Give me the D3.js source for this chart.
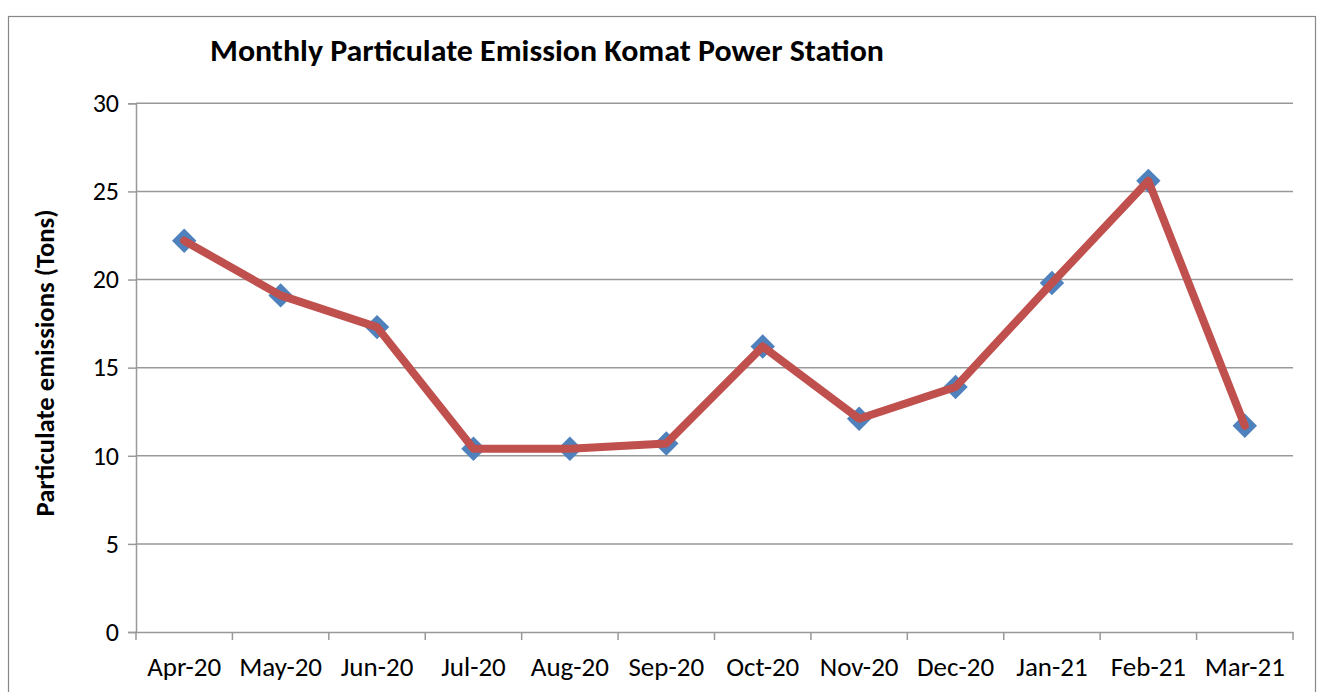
<!DOCTYPE html>
<html><head><meta charset="utf-8">
<script src="https://cdn.jsdelivr.net/npm/d3@7/dist/d3.min.js"></script>
<style>body{margin:0;background:#fff;}svg{display:block;}</style>
</head><body>
<svg id="c" width="1329" height="692"></svg>
<script>
const months = ["Apr-20","May-20","Jun-20","Jul-20","Aug-20","Sep-20","Oct-20","Nov-20","Dec-20","Jan-21","Feb-21","Mar-21"];
const emissions = [22.2,19.1,17.3,10.4,10.4,10.7,16.2,12.1,13.9,19.8,25.6,11.7];
const yTicks = [0,5,10,15,20,25,30];
const title = "Monthly Particulate Emission Komat Power Station";
const yTitle = "Particulate emissions (Tons)";

const svg = d3.select("#c");
const font = "Carlito, Calibri, 'Open Sans', sans-serif";
const m = {left:136, right:1293, top:103.3, bottom:632};

svg.append("rect").attr("x",8.5).attr("y",16.5).attr("width",1307).attr("height",700)
  .attr("fill","#fff").attr("stroke","#888").attr("stroke-width",1.2);

const x = d3.scaleBand().domain(months).range([m.left,m.right]);
const y = d3.scaleLinear().domain([0,30]).range([m.bottom,m.top]);

// gridlines
svg.append("g").selectAll("line").data(yTicks.filter(d=>d>0)).join("line")
  .attr("x1",m.left).attr("x2",m.right).attr("y1",d=>y(d)).attr("y2",d=>y(d))
  .attr("stroke","#999").attr("stroke-width",1.5);

// y axis
const ya = svg.append("g").attr("transform",`translate(${m.left},0)`)
  .call(d3.axisLeft(y).tickValues(yTicks).tickSize(8).tickPadding(6));
ya.select(".domain").attr("stroke","#999").attr("stroke-width",1.5);
ya.selectAll(".tick line").attr("stroke","#999").attr("stroke-width",1.5);
ya.selectAll("text").attr("font-family",font).attr("font-size",26).attr("fill","#000").attr("dx",-3);

// x axis
const xa = svg.append("g").attr("transform",`translate(0,${m.bottom})`)
  .call(d3.axisBottom(x).tickSize(0).tickPadding(25));
xa.select(".domain").attr("stroke","#999").attr("stroke-width",1.5);
xa.selectAll("text").attr("font-family",font).attr("font-size",27).attr("fill","#000");
// category boundary ticks
const bounds = months.map(d=>x(d)).concat([m.right]);
svg.append("g").selectAll("line").data(bounds).join("line")
  .attr("x1",d=>d).attr("x2",d=>d).attr("y1",m.bottom).attr("y2",m.bottom+8)
  .attr("stroke","#999").attr("stroke-width",1.5);

const cx = d => x(d) + x.bandwidth()/2;
const data = months.map((mo,i)=>({mo, v:emissions[i]}));

// markers
svg.append("g").selectAll("path").data(data).join("path")
  .attr("d", d3.symbol().type(d3.symbolDiamond2).size(380))
  .attr("transform", d=>`translate(${cx(d.mo)},${y(d.v)})`)
  .attr("fill","#4F81BD");

// line
svg.append("path").datum(data)
  .attr("d", d3.line().x(d=>cx(d.mo)).y(d=>y(d.v)))
  .attr("fill","none").attr("stroke","#C0504D").attr("stroke-width",8)
  .attr("stroke-linejoin","round").attr("stroke-linecap","round");

// title
svg.append("text").attr("x",210).attr("y",61).attr("font-family",font)
  .attr("font-weight","bold").attr("font-size",31).attr("fill","#000")
  .attr("textLength",674).attr("lengthAdjust","spacingAndGlyphs").text(title);

// y title
svg.append("text").attr("transform","translate(54,363) rotate(-90)")
  .attr("text-anchor","middle").attr("font-family",font).attr("font-weight","bold")
  .attr("font-size",26).attr("fill","#000")
  .attr("textLength",307).attr("lengthAdjust","spacingAndGlyphs").text(yTitle);
</script>
</body></html>
